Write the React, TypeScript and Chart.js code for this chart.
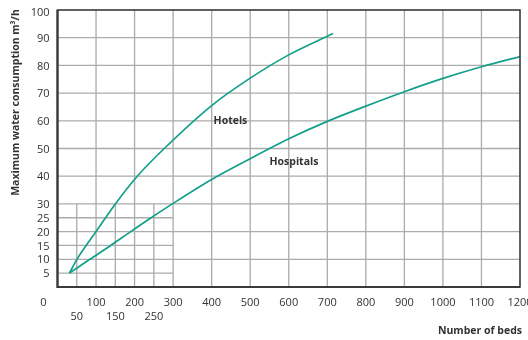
import React, { useEffect, useRef } from "react";
import { Chart, registerables } from "chart.js";

Chart.register(...registerables);

const hotelBeds = [31, 50, 100, 150, 207, 277, 400, 500, 600, 715];
const hotelFlow = [5, 9.9, 20, 30, 40, 50, 65.5, 75.4, 83.8, 91.5];
const hospitalBeds = [31, 84, 138, 190, 243, 298, 400, 500, 600, 700, 800, 900, 1000, 1100, 1200];
const hospitalFlow = [5, 10, 15, 20, 25, 30, 38.8, 46.3, 53.5, 59.8, 65.3, 70.5, 75.3, 79.5, 83.2];

const yLabels = [5, 10, 15, 20, 25, 30, 40, 50, 60, 70, 80, 90, 100];
const yGridFull = [10, 20, 30, 40, 50, 60, 70, 80, 90];
const yGridShort = [5, 15, 25];
const xLabelsTop = [0, 100, 200, 300, 400, 500, 600, 700, 800, 900, 1000, 1100, 1200];
const xLabelsBottom = [50, 150, 250];
const xGridFull = [100, 200, 300, 400, 500, 600, 700, 800, 900, 1000, 1100];
const xGridShort = [50, 150, 250];
const shortLimitX = 300;
const shortLimitY = 30;

const seriesNames = ["Hotels", "Hospitals"];
const seriesLabelAt = [
  [405, 60],
  [550, 45],
];
const yTitle = "Maximum water consumption m³/h";
const xTitle = "Number of beds";

const TEAL = "#12a08a";
const GRID = "#ababab";
const FRAME = "#3a3a3a";
const TEXT = "#333333";
const FONT = '"Open Sans", "DejaVu Sans", sans-serif';

const decorPlugin = {
  id: "decor",
  beforeDatasetsDraw(chart: any) {
    const { ctx, chartArea, scales } = chart;
    const xs = scales.x;
    const ys = scales.y;
    ctx.save();
    ctx.strokeStyle = GRID;
    ctx.lineWidth = 1.3;
    ctx.beginPath();
    for (const v of xGridFull) {
      const px = xs.getPixelForValue(v);
      ctx.moveTo(px, chartArea.top);
      ctx.lineTo(px, chartArea.bottom);
    }
    for (const v of yGridFull) {
      const py = ys.getPixelForValue(v);
      ctx.moveTo(chartArea.left, py);
      ctx.lineTo(chartArea.right, py);
    }
    const sx = xs.getPixelForValue(shortLimitX);
    const sy = ys.getPixelForValue(shortLimitY);
    for (const v of xGridShort) {
      const px = xs.getPixelForValue(v);
      ctx.moveTo(px, sy);
      ctx.lineTo(px, chartArea.bottom);
    }
    for (const v of yGridShort) {
      const py = ys.getPixelForValue(v);
      ctx.moveTo(chartArea.left, py);
      ctx.lineTo(sx, py);
    }
    ctx.stroke();
    ctx.restore();
  },
  afterDatasetsDraw(chart: any) {
    const { ctx, chartArea, scales } = chart;
    const xs = scales.x;
    const ys = scales.y;
    ctx.save();
    ctx.strokeStyle = FRAME;
    ctx.lineWidth = 1.6;
    ctx.strokeRect(chartArea.left, chartArea.top, chartArea.right - chartArea.left, chartArea.bottom - chartArea.top);
    ctx.lineWidth = 2.2;
    ctx.beginPath();
    ctx.moveTo(chartArea.left, chartArea.top);
    ctx.lineTo(chartArea.left, chartArea.bottom);
    ctx.lineTo(chartArea.right, chartArea.bottom);
    ctx.stroke();

    ctx.fillStyle = TEXT;
    ctx.font = `11px ${FONT}`;
    ctx.textAlign = "right";
    ctx.textBaseline = "middle";
    for (const v of yLabels) {
      const py = ys.getPixelForValue(v) + (v === 100 ? 3 : 1);
      ctx.fillText(String(v), chartArea.left - 8, py);
    }
    ctx.textAlign = "center";
    const row1 = chartArea.bottom + 16;
    const row2 = chartArea.bottom + 30;
    for (const v of xLabelsTop) {
      const px = xs.getPixelForValue(v) + (v === 0 ? -14 : 0);
      ctx.fillText(String(v), px, row1);
    }
    for (const v of xLabelsBottom) {
      ctx.fillText(String(v), xs.getPixelForValue(v), row2);
    }
    ctx.font = `bold 10.5px ${FONT}`;
    ctx.textAlign = "right";
    ctx.fillText(xTitle, chartArea.right + 2, chartArea.bottom + 44);
    ctx.save();
    ctx.translate(16, (chartArea.top + chartArea.bottom) / 2 - 46);
    ctx.rotate(-Math.PI / 2);
    ctx.textAlign = "center";
    ctx.fillText(yTitle, 0, 0);
    ctx.restore();
    ctx.textAlign = "left";
    seriesNames.forEach((name, i) => {
      const [bx, fy] = seriesLabelAt[i];
      ctx.fillText(name, xs.getPixelForValue(bx), ys.getPixelForValue(fy));
    });
    ctx.restore();
  },
};

export default function App() {
  const ref = useRef<HTMLCanvasElement | null>(null);
  useEffect(() => {
    if (!ref.current) return;
    const chart = new Chart(ref.current, {
      type: "scatter",
      data: {
        datasets: [
          {
            label: seriesNames[0],
            data: hotelBeds.map((b, i) => ({ x: b, y: hotelFlow[i] })),
            showLine: true,
            borderColor: TEAL,
            borderWidth: 1.7,
            pointRadius: 0,
            cubicInterpolationMode: "monotone",
          },
          {
            label: seriesNames[1],
            data: hospitalBeds.map((b, i) => ({ x: b, y: hospitalFlow[i] })),
            showLine: true,
            borderColor: TEAL,
            borderWidth: 1.7,
            pointRadius: 0,
            cubicInterpolationMode: "monotone",
          },
        ],
      },
      options: {
        responsive: false,
        animation: false,
        layout: { padding: { left: 57.5, right: 8, top: 10, bottom: 53 } },
        plugins: { legend: { display: false }, tooltip: { enabled: false } },
        scales: {
          x: { type: "linear", min: 0, max: 1200, display: false },
          y: { type: "linear", min: 0, max: 100, display: false },
        },
      },
      plugins: [decorPlugin],
    });
    return () => chart.destroy();
  }, []);
  return (
    <canvas
      ref={ref}
      width={528}
      height={340}
      style={{ position: "absolute", left: 0, top: 0, display: "block", background: "#fff" }}
    />
  );
}
